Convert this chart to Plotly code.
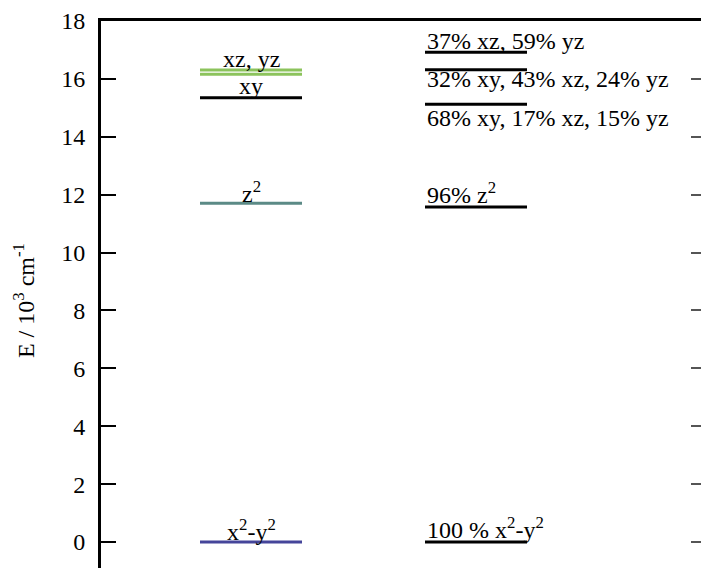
import plotly.graph_objects as go

# ---- data ----
# Ligand-field (left column) d-orbital energies, 10^3 cm^-1
lf_orbitals = ["x2-y2", "z2", "xy", "xz", "yz"]
lf_energies = [0.0, 11.70, 15.35, 16.16, 16.31]
lf_colors = ["#45459a", "#5b8a86", "#000000", "#8cc35c", "#8cc35c"]

# Left column labels (text, energy of level they sit on)
lf_label_text = ["x<sup>2</sup>-y<sup>2</sup>", "z<sup>2</sup>", "xy", "xz, yz"]
lf_label_energy = [0.0, 11.70, 15.35, 16.31]

# Calculated (right column) levels with orbital composition
calc_energies = [0.0, 11.57, 15.12, 16.32, 16.92]
calc_labels = ["100 % x<sup>2</sup>-y<sup>2</sup>", "96% z<sup>2</sup>",
               "68% xy, 17% xz, 15% yz", "32% xy, 43% xz, 24% yz",
               "37% xz, 59% yz"]

y_ticks = [0, 2, 4, 6, 8, 10, 12, 14, 16, 18]

# ---- layout constants (not data) ----
left_x = (0.99, 2.01)
right_x = (3.24, 4.26)
lf_label_shift = [12, 11, 12, 11]
calc_label_shift = [14, 14, -14, -9, 11]
FONT = "Liberation Serif, Times New Roman, serif"

fig = go.Figure()

for e, c in zip(lf_energies, lf_colors):
    fig.add_trace(go.Scatter(x=list(left_x), y=[e, e], mode="lines",
                             line=dict(color=c, width=3),
                             showlegend=False, hoverinfo="skip"))
for e in calc_energies:
    fig.add_trace(go.Scatter(x=list(right_x), y=[e, e], mode="lines",
                             line=dict(color="#000000", width=3),
                             showlegend=False, hoverinfo="skip"))
# empty trace on the mirrored right axis
fig.add_trace(go.Scatter(x=[None], y=[None], yaxis="y2", showlegend=False))

annotations = []
for t, e, s in zip(lf_label_text, lf_label_energy, lf_label_shift):
    annotations.append(dict(x=(left_x[0] + left_x[1]) / 2, y=e, xref="x", yref="y",
                            text=t, showarrow=False, xanchor="center",
                            yanchor="middle", yshift=s,
                            font=dict(family=FONT, size=24, color="black")))
for t, e, s in zip(calc_labels, calc_energies, calc_label_shift):
    annotations.append(dict(x=right_x[0], y=e, xref="x", yref="y",
                            text=t, showarrow=False, xanchor="left",
                            yanchor="middle", yshift=s,
                            font=dict(family=FONT, size=24, color="black")))
annotations.append(dict(x=(24 - 101) / 600, y=0.488, xref="paper", yref="paper",
                        text="E / 10<sup>3</sup> cm<sup>-1</sup>", textangle=-90,
                        showarrow=False, xanchor="center", yanchor="middle",
                        font=dict(family=FONT, size=24, color="black")))

yr = [-0.898, 18]
fig.update_layout(
    width=701, height=568,
    margin=dict(l=101, r=0, t=21, b=0),
    paper_bgcolor="white", plot_bgcolor="white",
    font=dict(family=FONT, size=24, color="black"),
    xaxis=dict(range=[0, 6], side="top", showline=True, linewidth=3,
               linecolor="black", showticklabels=False, ticks="",
               showgrid=False, zeroline=False),
    yaxis=dict(range=yr, tickvals=y_ticks, ticks="inside", ticklen=15,
               tickwidth=1.5, tickcolor="black", showline=True, linewidth=3,
               linecolor="black", showgrid=False, zeroline=False,
               ticklabelstandoff=8,
               tickfont=dict(family=FONT, size=24, color="black")),
    yaxis2=dict(range=yr, tickvals=y_ticks, overlaying="y", side="right",
                ticks="inside", ticklen=10, tickwidth=1.5, tickcolor="#555555",
                showline=False, showticklabels=False, showgrid=False,
                zeroline=False),
    annotations=annotations,
)

fig.write_html(
    "out.html",
    config={"displayModeBar": False},
    post_script="document.body.style.margin='0';"
                "document.body.style.overflow='hidden';"
                "document.documentElement.style.overflow='hidden';",
)
